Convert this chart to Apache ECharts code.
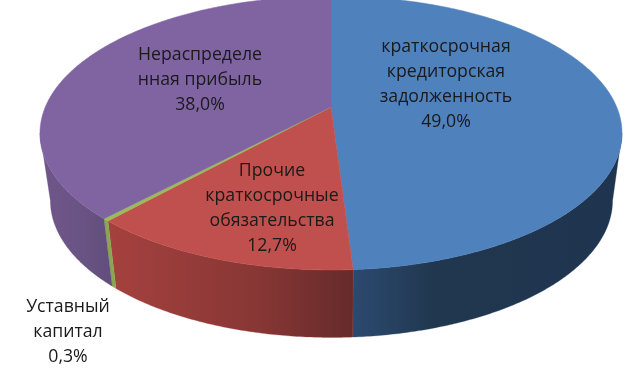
<!DOCTYPE html>
<html>
<head>
<meta charset="utf-8">
<style>html,body{margin:0;background:#fff}#chart{width:626px;height:376px}</style>
<script src="https://cdn.jsdelivr.net/npm/echarts@6/dist/echarts.min.js"></script>
</head>
<body>
<div id="chart"></div>
<script>
const categories = [['краткосрочная', 'кредиторская', 'задолженность'], ['Прочие', 'краткосрочные', 'обязательства'], ['Уставный', 'капитал'], ['Нераспределе', 'нная прибыль']]
const shares = [49.0, 12.7, 0.3, 38.0]

const topColors = ['#4f81bd', '#c0504d', '#9bbb59', '#8064a2']
const wallStops = [
    [[0, '#2b4a70'], [0.3, '#21374f'], [1, '#1f344f']],
    [[0, '#a5413e'], [0.6, '#883735'], [1, '#652b2a']],
    [[0, '#8aa64f'], [1, '#8aa64f']],
    [[0, '#6f5689'], [0.5, '#6a5485'], [1, '#614e7c']]
]
// centre of each label block, in page pixels
const labelCentres = [[446, 84.5], [272, 208.5], [68, 332], [200, 80]]

// slices as [startAngle, endAngle, index], clockwise from 12 o'clock
const total = shares.reduce((a, b) => a + b, 0)
let acc = 0
const slices = shares.map((v, i) => {
    const row = [acc / total * 360, (acc + v) / total * 360, i]
    acc += v
    return row
})

// perspective view of the disc
const view = { cx: 331, cy: 107, rx: 285.7, ry: 132, tilt: -0.19, depth: 67.5, lowerCx: 345, lowerScale: 0.966 }

function upper(deg) {
    const t = deg * Math.PI / 180
    const u = Math.sin(t), v = -Math.cos(t)
    const d = 1 + view.tilt * v
    return [view.cx + view.rx * u / d, view.cy + view.ry * v / d]
}
function lower(deg) {
    const p = upper(deg)
    return [view.lowerCx + (p[0] - view.lowerCx) * view.lowerScale, p[1] + view.depth]
}
function arc(from, to, fn) {
    const pts = []
    const n = Math.max(2, Math.ceil((to - from) * 2))
    for (let i = 0; i <= n; i++) pts.push(fn(from + (to - from) * i / n))
    return pts
}

function renderWall(params, api) {
    const i = api.value(2)
    // the wall shows only between the two widest points of the disc
    const from = Math.max(api.value(0), 101)
    const to = Math.min(api.value(1), 259)
    if (to <= from) return
    const pts = arc(from, to, upper).concat(arc(from, to, lower).reverse()).map(p => api.coord(p))
    const fill = new echarts.graphic.LinearGradient(0, 0, 1, 0, wallStops[i].map(s => ({ offset: s[0], color: s[1] })))
    return { type: 'polygon', shape: { points: pts }, style: { fill: fill, stroke: wallStops[i][0][1], lineWidth: 0.3 } }
}

function renderTop(params, api) {
    const i = api.value(2)
    const pts = [[view.cx, view.cy]].concat(arc(api.value(0), api.value(1), upper)).map(p => api.coord(p))
    return { type: 'polygon', shape: { points: pts }, style: { fill: topColors[i], stroke: topColors[i], lineWidth: 0.5 } }
}

function renderLabel(params, api) {
    const i = api.value(2)
    const c = api.coord(labelCentres[i])
    const text = categories[i].concat(shares[i].toFixed(1).replace('.', ',') + '%').join('\n')
    return {
        type: 'text',
        style: { x: c[0], y: c[1], text: text, align: 'center', verticalAlign: 'middle', fill: '#1a1a1a', font: '17.7px "Open Sans"', lineHeight: 25.3 }
    }
}

const chart = echarts.init(document.getElementById('chart'))
chart.setOption({
    animation: false,
    grid: { left: 0, right: 0, top: 0, bottom: 0 },
    xAxis: { type: 'value', min: 0, max: 626, show: false },
    yAxis: { type: 'value', min: 0, max: 376, inverse: true, show: false },
    series: [
        { type: 'custom', renderItem: renderWall, data: slices, clip: false, silent: true, z: 1 },
        { type: 'custom', renderItem: renderTop, data: slices, clip: false, silent: true, z: 2 },
        { type: 'custom', renderItem: renderLabel, data: slices, clip: false, silent: true, z: 3 }
    ]
})
</script>
</body>
</html>
